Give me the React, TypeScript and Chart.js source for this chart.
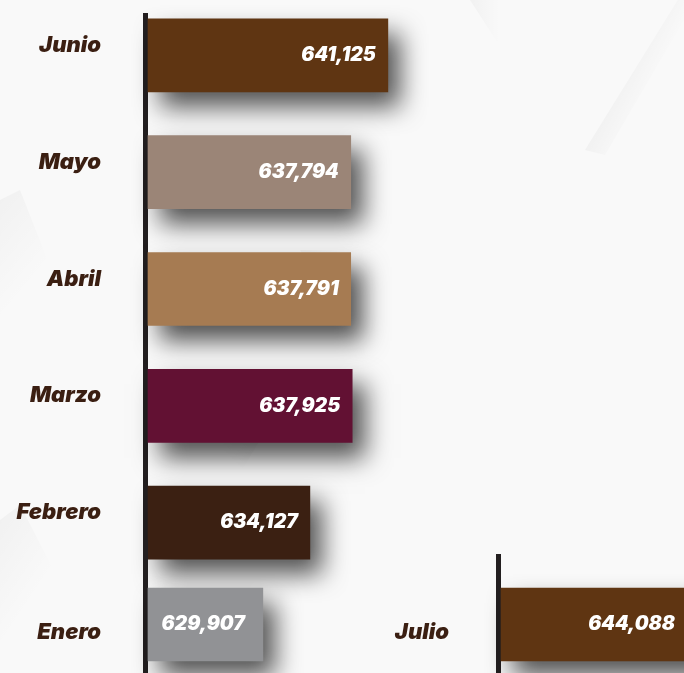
import React, { useEffect, useRef } from 'react';
import { Chart, registerables } from 'chart.js';

Chart.register(...registerables);

// ---- data ----
const mainMonths = ['Junio', 'Mayo', 'Abril', 'Marzo', 'Febrero'];
const mainValues = [641125, 637794, 637791, 637925, 634127];
const mainColors = ['#5f3512', '#9b8577', '#a67b52', '#621133', '#3b2012'];

const eneroMonths = ['Enero'];
const eneroValues = [629907];
const eneroColors = ['#919295'];

const julioMonths = ['Julio'];
const julioValues = [644088];
const julioColors = ['#5f3512'];

const X_MIN = 619600;
const X_MAX = 667700;

const LABEL_COLOR = '#3b1f12';
const AXIS_COLOR = '#231f20';
const LABEL_FONT = { family: 'Inter, Roboto, sans-serif', weight: '900', style: 'italic' as const, size: 22 };
const VALUE_FONT = 'italic 900 19.5px Inter, Roboto, sans-serif';

const fmt = (v: number) => v.toLocaleString('en-US');

type RowOpts = {
  labels: string[];
  values: number[];
  colors: string[];
  axisW: number;
  tickPad: number;
  labelOffset: number;
  padTop: number;
  padBottom: number;
  lineTop: number;
  visibleRight?: number;
  background?: boolean;
  valuePad: number;
};

const bands: { pts: number[][]; g: number[] }[] = [
  { pts: [[470, 0], [500, 0], [700, 300], [684, 330]], g: [470, 0, 500, 0] },
  { pts: [[585, 150], [684, -10], [684, 20], [605, 155]], g: [585, 150, 615, 165] },
  { pts: [[300, 250], [340, 250], [684, 780], [630, 780]], g: [300, 250, 340, 250] },
  { pts: [[0, 200], [20, 190], [75, 330], [0, 420]], g: [0, 200, 60, 250] },
  { pts: [[0, 520], [20, 505], [90, 640], [0, 700]], g: [0, 520, 60, 560] },
  { pts: [[90, 640], [240, 420], [260, 440], [120, 673]], g: [240, 420, 215, 445] },
];

const bgPlugin = {
  id: 'bgPattern',
  beforeDraw(chart: any) {
    const opts = chart.options.plugins.bgPattern;
    if (!opts || !opts.enabled) return;
    const ctx = chart.ctx;
    const oy = opts.offsetY || 0;
    ctx.save();
    ctx.fillStyle = '#f9f9f9';
    ctx.fillRect(0, 0, chart.width, chart.height);
    ctx.translate(0, oy);
    for (const b of bands) {
      const gr = ctx.createLinearGradient(b.g[0], b.g[1], b.g[2], b.g[3]);
      gr.addColorStop(0, 'rgba(0,0,0,0.03)');
      gr.addColorStop(1, 'rgba(0,0,0,0)');
      ctx.fillStyle = gr;
      ctx.beginPath();
      b.pts.forEach((p, i) => (i === 0 ? ctx.moveTo(p[0], p[1]) : ctx.lineTo(p[0], p[1])));
      ctx.closePath();
      ctx.fill();
    }
    ctx.restore();
  },
};

const axisLinePlugin = {
  id: 'axisLine',
  beforeDatasetsDraw(chart: any) {
    const o = chart.options.plugins.axisLine;
    const ctx = chart.ctx;
    ctx.save();
    ctx.fillStyle = AXIS_COLOR;
    ctx.fillRect(chart.chartArea.left - 5, o.top, 5, chart.height - o.top);
    ctx.restore();
  },
};

const shadowValuePlugin = {
  id: 'shadowValues',
  beforeDatasetsDraw(chart: any) {
    const ctx = chart.ctx;
    ctx.save();
    ctx.shadowColor = 'rgba(0,0,0,0.68)';
    ctx.shadowBlur = 24;
    ctx.shadowOffsetX = 12;
    ctx.shadowOffsetY = 15;
  },
  afterDatasetsDraw(chart: any) {
    const ctx = chart.ctx;
    ctx.restore();
    const o = chart.options.plugins.shadowValues;
    const meta = chart.getDatasetMeta(0);
    const data = chart.data.datasets[0].data as number[];
    ctx.save();
    ctx.font = VALUE_FONT;
    ctx.fillStyle = '#ffffff';
    ctx.textAlign = 'right';
    ctx.textBaseline = 'middle';
    meta.data.forEach((bar: any, i: number) => {
      const end = Math.min(bar.x, o.visibleRight ?? chart.width);
      ctx.fillText(fmt(data[i]), end - o.valuePad, bar.y);
    });
    ctx.restore();
  },
};

function BarRow(props: RowOpts & { style: React.CSSProperties; width: number; height: number }) {
  const ref = useRef<HTMLCanvasElement>(null);
  useEffect(() => {
    if (!ref.current) return;
    const p = props;
    const chart = new Chart(ref.current, {
      type: 'bar',
      data: {
        labels: p.labels,
        datasets: [
          {
            data: p.values,
            backgroundColor: p.colors,
            borderWidth: 0,
            barThickness: 73,
            base: X_MIN,
            clip: false as any,
          } as any,
        ],
      },
      options: {
        indexAxis: 'y',
        responsive: false,
        animation: false,
        devicePixelRatio: 1,
        layout: { padding: { top: p.padTop, bottom: p.padBottom, left: 0, right: 0 } },
        scales: {
          x: { display: false, min: X_MIN, max: X_MAX },
          y: {
            position: 'left',
            grid: { display: false, drawTicks: false },
            border: { display: false },
            ticks: {
              color: LABEL_COLOR,
              font: LABEL_FONT as any,
              padding: p.tickPad,
              labelOffset: p.labelOffset,
            },
            afterFit(scale: any) {
              scale.width = p.axisW;
              scale.paddingTop = 0;
              scale.paddingBottom = 0;
            },
          },
        },
        plugins: {
          legend: { display: false },
          tooltip: { enabled: false },
          bgPattern: { enabled: !!p.background, offsetY: -(p.style.top as number) },
          axisLine: { top: p.lineTop },
          shadowValues: { visibleRight: p.visibleRight, valuePad: p.valuePad },
        } as any,
      },
      plugins: [bgPlugin, axisLinePlugin, shadowValuePlugin],
    });
    return () => chart.destroy();
  }, []);
  return (
    <canvas
      ref={ref}
      width={props.width}
      height={props.height}
      style={{ position: 'absolute', width: props.width, height: props.height, ...props.style }}
    />
  );
}

export default function App() {
  return (
    <div
      style={{
        position: 'fixed',
        left: 0,
        top: 0,
        width: 684,
        height: 673,
        overflow: 'hidden',
        background: '#f9f9f9',
      }}
    >
      <BarRow
        labels={mainMonths}
        values={mainValues}
        colors={mainColors}
        axisW={148}
        tickPad={47}
        labelOffset={-10}
        padTop={0}
        padBottom={92}
        lineTop={16}
        background
        valuePad={12}
        width={684}
        height={676}
        style={{ left: 0, top: -3 }}
      />
      <BarRow
        labels={eneroMonths}
        values={eneroValues}
        colors={eneroColors}
        axisW={148}
        tickPad={47}
        labelOffset={8}
        padTop={36}
        padBottom={0}
        lineTop={0}
        valuePad={18}
        width={684}
        height={133}
        style={{ left: 0, top: 540 }}
      />
      <BarRow
        labels={julioMonths}
        values={julioValues}
        colors={julioColors}
        axisW={121}
        tickPad={52}
        labelOffset={8}
        padTop={36}
        padBottom={0}
        lineTop={14}
        visibleRight={304}
        valuePad={9}
        width={657}
        height={133}
        style={{ left: 380, top: 540 }}
      />
    </div>
  );
}
